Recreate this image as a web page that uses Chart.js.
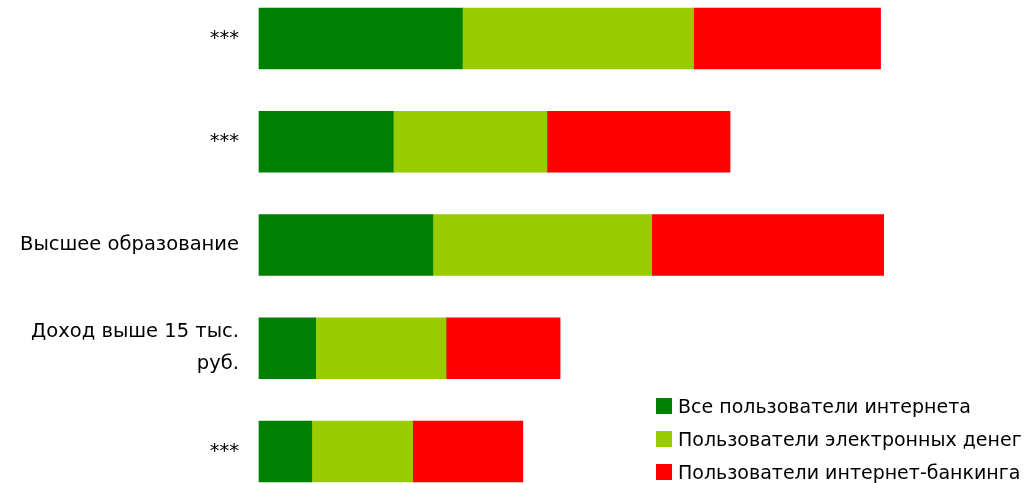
<!DOCTYPE html>
<html lang="ru">
<head>
<meta charset="utf-8">
<title>Пользователи интернета</title>
<script src="https://cdn.jsdelivr.net/npm/chart.js@4.4.1/dist/chart.umd.min.js"></script>
<style>
  html, body { margin: 0; padding: 0; background: #fff; }
  #wrap { position: relative; width: 1035px; height: 483px; overflow: hidden; }
  #legend {
    position: absolute; left: 656px; top: 389px;
    font-family: "DejaVu Sans", sans-serif; font-size: 19px; color: #000;
  }
  .item { display: flex; align-items: center; height: 33px; white-space: nowrap; }
  .swatch { width: 16px; height: 16px; margin-right: 6px; flex: none; }
</style>
</head>
<body>
<div id="wrap">
  <canvas id="chart" width="1035" height="483"></canvas>
  <div id="legend"></div>
</div>
<script>
// Groups (top to bottom)
const categories = [
  '***',
  '***',
  'Высшее образование',
  ['Доход выше 15 тыс.', 'руб.'],
  '***'
];

// Series names and colours
const seriesNames = [
  'Все пользователи интернета',
  'Пользователи электронных денег',
  'Пользователи интернет-банкинга'
];
const seriesColors = ['#008000', '#99cc00', '#ff0000'];

// Series values
const allUsers     = [26.2, 17.3, 22.4, 7.3, 6.8];
const eMoneyUsers  = [29.8, 19.8, 28.2, 16.8, 13.0];
const bankingUsers = [24.1, 23.6, 29.9, 14.7, 14.2];

const seriesValues = [allUsers, eMoneyUsers, bankingUsers];

const datasets = seriesNames.map((name, i) => ({
  label: name,
  data: seriesValues[i],
  backgroundColor: seriesColors[i],
  borderWidth: 0,
  barThickness: 61,
  clip: false
}));

const chart = new Chart(document.getElementById('chart'), {
  type: 'bar',
  data: { labels: categories, datasets },
  options: {
    indexAxis: 'y',
    responsive: false,
    animation: false,
    layout: { padding: { top: 38.5, bottom: 31.5, left: 0, right: 0 } },
    plugins: {
      legend: { display: false },
      tooltip: { enabled: false }
    },
    scales: {
      x: {
        stacked: true,
        display: false,
        min: 0,
        max: 100
      },
      y: {
        stacked: true,
        offset: false,
        grid: { display: false, drawTicks: false },
        border: { display: false },
        ticks: {
          padding: 20,
          color: '#000',
          font: { family: '"DejaVu Sans", sans-serif', size: 19.5, lineHeight: 1.64 }
        },
        afterFit(scale) {
          // fixed label column; end labels may overhang the plot area
          scale.width = 259;
          scale.paddingTop = 0;
          scale.paddingBottom = 0;
        }
      }
    }
  }
});

// Legend built from the chart's datasets
const legendEl = document.getElementById('legend');
chart.data.datasets.forEach(ds => {
  const item = document.createElement('div');
  item.className = 'item';
  const sw = document.createElement('span');
  sw.className = 'swatch';
  sw.style.background = ds.backgroundColor;
  const txt = document.createElement('span');
  txt.textContent = ds.label;
  item.appendChild(sw);
  item.appendChild(txt);
  legendEl.appendChild(item);
});
</script>
</body>
</html>
